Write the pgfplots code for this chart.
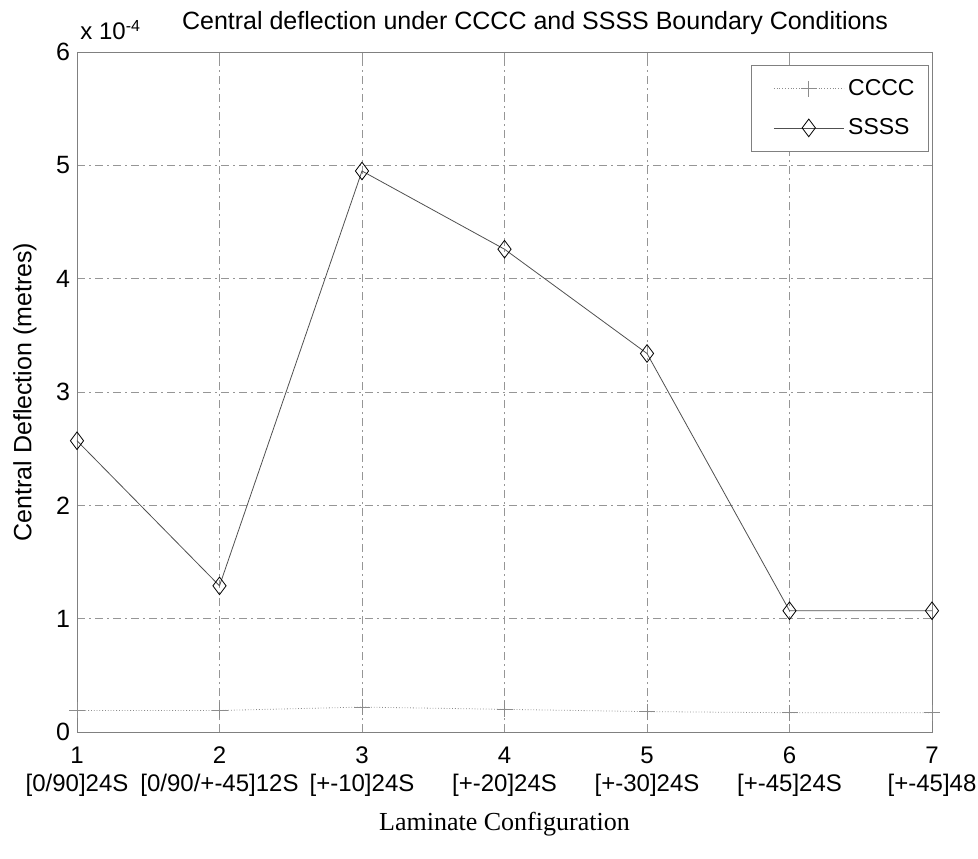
\documentclass[border=0pt]{standalone}
\usepackage{fontspec}
\setmainfont{Liberation Sans}
\newfontfamily\seriffont{Liberation Serif}
\usepackage{pgfplots}
\pgfplotsset{compat=1.18}
\definecolor{gridgray}{RGB}{150,150,150}
\definecolor{ccccgray}{RGB}{140,140,140}
\definecolor{ssssgray}{RGB}{80,80,80}
\begin{document}
\begin{tikzpicture}
\useasboundingbox (-38.5pt,-63pt) rectangle (450.5pt,366pt);
\begin{axis}[
  scale only axis, width=427.5pt, height=340pt,
  xmin=1, xmax=7, ymin=0, ymax=6e-4,
  xtick={1,2,3,4,5,6,7},
  xticklabels={{1\\{[0/90]24S}},{2\\{[0/90/+-45]12S}},{3\\{[+-10]24S}},{4\\{[+-20]24S}},{5\\{[+-30]24S}},{6\\{[+-45]24S}},{7\\{[+-45]48}}},
  xticklabel style={align=center, font=\fontsize{12}{14}\selectfont, yshift=-4pt},
  ytick={0,1e-4,2e-4,3e-4,4e-4,5e-4,6e-4},
  scaled y ticks=base 10:4,
  ytick scale label code/.code={},
  yticklabel style={font=\fontsize{12.5}{14}\selectfont},
  /pgf/number format/assume math mode=true,
  tick align=inside, major tick length=4pt,
  tick style={gridgray, thin},
  axis line style={gray, thin},
  grid=major,
  major grid style={gridgray, thin, dash pattern=on 4pt off 2pt on 1pt off 2pt},
  clip=false,
  ylabel={Central Deflection (metres)},
  ylabel style={at={(axis description cs:0,0.5)}, yshift=26pt, anchor=center, font=\fontsize{12.5}{14}\selectfont},
  xlabel={\seriffont Laminate Configuration},
  xlabel style={at={(axis description cs:0.5,0)}, yshift=-46pt, anchor=center, font=\fontsize{13}{15}\selectfont},
  title={Central deflection under CCCC and SSSS Boundary Conditions},
  title style={at={(axis description cs:0,1)}, xshift=49pt, yshift=5pt, anchor=base west, font=\fontsize{12.5}{14}\selectfont},
  legend style={at={(axis description cs:0.9965,0.981)}, anchor=north east, draw=gray, thin, font=\fontsize{11.5}{13}\selectfont, inner xsep=5pt, inner ysep=5pt, row sep=6pt, cells={anchor=west}},
  legend image code/.code={\path (-6pt,0pt); \draw[mark repeat=2,mark phase=2] plot coordinates {(0pt,0pt) (17.5pt,0pt) (35pt,0pt)};},
]
\addplot[ccccgray, densely dotted, thin, mark=+, mark size=4pt, mark options={solid, ccccgray}] coordinates {
  (1,0.19e-4) (2,0.19e-4) (3,0.22e-4) (4,0.20e-4) (5,0.18e-4) (6,0.17e-4) (7,0.17e-4)
};
\addlegendentry{CCCC}
\addplot[ssssgray, thin, mark=diamond, mark size=4.4pt, mark options={solid, black, fill=none}] coordinates {
  (1,2.57e-4) (2,1.29e-4) (3,4.95e-4) (4,4.26e-4) (5,3.34e-4) (6,1.07e-4) (7,1.07e-4)
};
\addlegendentry{SSSS}
\node[anchor=base west, font=\fontsize{12}{14}\selectfont, inner sep=0pt] at ([xshift=1.5pt,yshift=6pt]axis description cs:0,1) {x 10\textsuperscript{-4}};
\end{axis}
\end{tikzpicture}
\end{document}
